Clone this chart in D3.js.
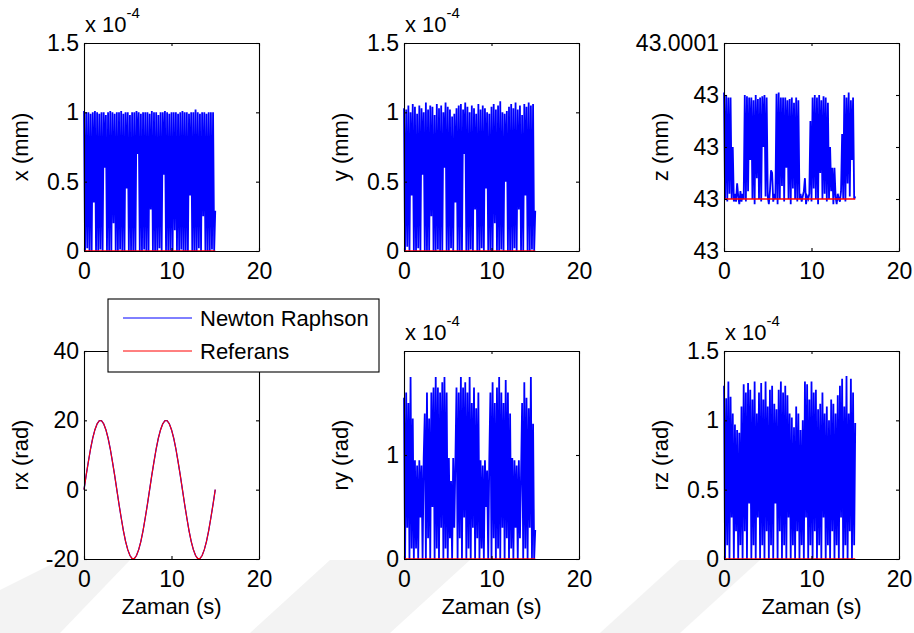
<!DOCTYPE html>
<html>
<head>
<meta charset="utf-8">
<script src="https://cdn.jsdelivr.net/npm/d3@7"></script>
<style>
  body { margin: 0; background: #fff; }
  svg text { font-family: "Liberation Sans", Arial, sans-serif; fill: #000; }
</style>
</head>
<body>
<svg id="chart" width="914" height="633"></svg>
<script>
// Solver output sampled every 0.125 s over 0..15 s; rx reference every 0.25 s.
const sampleStep = 0.125;
const rxStep = 0.25;
const refTimes = [0, 15];
const xTicks = [0, 10, 20];

// Position errors, units of 1e-4 mm
const xNewton = [
  1.01,0,1.0,0.02,1.0,0,0.99,0,1.0,0.35,1.01,0,1.0,0,0.99,0.01,1.0,0,1.0,0.6,
  0.98,0,1.0,0,1.01,0,1.0,0.2,0.99,0,1.0,0,1.0,0.01,1.01,0,0.99,0,1.0,0.45,
  1.0,0,0.98,0,1.0,0,1.0,0,1.01,0.7,1.0,0,0.99,0,1.0,0.01,1.0,0,1.0,0,
  0.99,0.3,1.01,0,1.0,0,1.0,0,0.98,0.02,1.0,0,1.0,0.55,1.01,0,1.0,0,0.99,0,
  1.0,0,1.0,0.15,1.0,0,0.99,0,1.0,0.01,1.01,0,1.0,0,1.0,0,0.99,0.4,1.0,0,
  1.0,0,1.02,0,1.0,0.02,0.99,0,1.0,0.25,1.0,0,0.99,0,1.0,0,1.0,0.01,1.0,0,
  0.29
];
const xRef = [0, 0];

const yNewton = [
  1.03,0,1.02,0.03,1.05,0,1.0,0.4,1.06,0,1.04,0,0.99,0.02,1.05,0,1.03,0.55,1.0,0,
  1.07,0,1.02,0,1.05,0.25,1.04,0,0.98,0,1.06,0.01,1.03,0,1.05,0,1.0,0.6,1.07,0,
  1.04,0,1.02,0.02,0.97,0,0.99,0.35,1.03,0,1.05,0,1.06,0,1.02,0.7,1.07,0,1.04,0,
  1.0,0.01,1.05,0,1.03,0.3,0.99,0,1.06,0,1.02,0.02,1.05,0,1.03,0.45,1.0,0,0.99,0,
  1.04,0,1.06,0.2,1.02,0,1.05,0,1.08,0.01,1.0,0,0.99,0.5,1.01,0,1.04,0,1.06,0,
  1.03,0.02,1.07,0,1.02,0.3,1.05,0,0.98,0,1.06,0.4,1.04,0,1.07,0,1.05,0.01,1.06,0,
  0.29
];
const yRef = [0, 0];

// z error relative to 43 mm, units of 1e-5 mm
const zBase = 43;
const zNewton = [
  4.1,0,4.0,-0.1,3.9,0.2,3.9,0,2.0,-0.1,
  0.2,-0.1,0.6,0.1,-0.2,0.3,-0.1,0.2,0,
  4.0,-0.1,3.95,0.3,3.9,1.5,3.9,0,3.8,-0.2,4.0,0.8,3.85,0,3.9,-0.1,3.95,2.0,4.0,0.1,3.9,
  0.1,-0.2,0.3,1.1,1.0,-0.1,0.2,0,
  4.05,-0.2,4.1,0,3.9,0.5,3.9,-0.1,3.9,1.2,3.8,0,3.85,-0.2,3.9,0.4,3.7,0,3.9,-0.1,3.8,0,
  0.2,-0.1,0.1,0.3,0.8,-0.2,0.1,0,0.2,
  3.0,-0.1,3.9,0.4,4.0,0,3.9,-0.2,4.0,1.0,3.8,0,3.95,0.2,3.9,-0.1,3.7,0,2.0,0.3,
  1.2,-0.2,1.2,0.1,-0.2,0.2,0,-0.1,0.3,
  2.5,0,4.0,-0.1,3.9,0.6,4.1,0.1,3.8,1.5,3.9,0,0.1
];
const zRef = [0, 0];
const zTickLabels = ["43", "43", "43", "43", "43.0001"];

// Rotation about x follows the sinusoidal reference
const rxRef = [
  0,4.2,8.1,11.8,14.9,17.3,19.0,19.9,19.9,19.0,17.3,14.9,11.8,8.1,4.2,
  0,-4.2,-8.1,-11.8,-14.9,-17.3,-19.0,-19.9,-19.9,-19.0,-17.3,-14.9,-11.8,-8.1,-4.2,
  0,4.2,8.1,11.8,14.9,17.3,19.0,19.9,19.9,19.0,17.3,14.9,11.8,8.1,4.2,
  0,-4.2,-8.1,-11.8,-14.9,-17.3,-19.0,-19.9,-19.9,-19.0,-17.3,-14.9,-11.8,-8.1,-4.2,
  0
];
const rxNewton = [
  0,4.2,8.1,11.8,14.9,17.3,19.0,19.9,19.9,19.0,17.3,14.9,11.8,8.1,4.2,
  0,-4.2,-8.1,-11.8,-14.9,-17.3,-19.0,-19.9,-19.9,-19.0,-17.3,-14.9,-11.8,-8.1,-4.2,
  0,4.2,8.1,11.8,14.9,17.3,19.0,19.9,19.9,19.0,17.3,14.9,11.8,8.1,4.2,
  0,-4.2,-8.1,-11.8,-14.9,-17.3,-19.0,-19.9,-19.9,-19.0,-17.3,-14.9,-11.8,-8.1,-4.2,
  0
];

// Rotation errors, units of 1e-4 rad
const ryNewton = [
  1.55,0,1.6,0.3,1.5,0,1.75,0.1,1.35,0,
  0.95,0.1,0.9,0,0.95,0.4,0.9,0,0.97,
  1.4,0,1.6,0.2,1.35,0,1.6,0.5,1.65,0,1.75,0.1,1.65,0,1.6,0.3,1.7,0,1.75,0.1,1.6,
  0,0.97,0.2,0.75,0,0.97,0.3,0.95,
  1.65,0,1.6,0.2,1.75,0,1.65,0.4,1.7,0,1.6,0.1,1.75,0,1.5,0.3,1.65,0,1.45,0.2,1.6,0,
  0.95,0.1,0.9,0,0.95,0.5,0.85,0,0.97,
  1.6,0,1.7,0.2,1.5,0,1.65,0.1,1.75,0,1.6,0.3,1.5,0,1.72,0.2,1.6,0,1.4,0.1,
  0.97,0,0.95,0.3,0.9,0,0.95,0.2,0.8,
  1.5,0,1.7,0.1,1.55,0,1.45,0.3,1.75,0,1.3,0,0.28
];
const ryRef = [0, 0];

const rzNewton = [
  1.25,0,1.16,0.1,1.28,0,1.17,0.3,1.05,0,0.97,0.2,0.93,0,0.91,0.1,1.1,0,1.26,0.2,
  1.2,0,1.27,0.4,1.22,0,1.15,0.1,1.28,0,1.05,0.3,1.2,0,1.27,0.1,1.15,0,1.28,0.2,
  1.1,0,1.22,0.1,1.25,0,1.12,0.4,1.08,0,1.22,0.2,1.28,0,1.2,0.1,1.25,0,1.18,0.3,
  1.05,0,1.02,0.1,0.95,0,1.1,0.2,1.05,0,0.93,0.1,1.0,0,1.28,0.3,1.26,0,1.15,0.1,
  1.28,0,1.2,0.2,1.22,0,1.08,0.1,1.12,0,1.2,0.3,1.05,0,1.1,0.1,1.0,0,1.15,0.2,
  1.12,0,1.05,0.1,1.18,0,1.25,0.3,1.3,0,1.1,0.1,1.32,0,1.05,0.2,1.3,0,1.2,0.1,
  0.98
];
const rzRef = [0, 0];

const legendLabels = ["Newton Raphson", "Referans"];
const seriesColors = ["#0000ff", "#ff0000"];

const panels = [
  { label: "x (mm)",  newton: xNewton,  ref: xRef,  step: sampleStep, domain: [0, 1.5],  ticks: [0, 0.5, 1, 1.5], exp: true,  col: 0, row: 0 },
  { label: "y (mm)",  newton: yNewton,  ref: yRef,  step: sampleStep, domain: [0, 1.5],  ticks: [0, 0.5, 1, 1.5], exp: true,  col: 1, row: 0 },
  { label: "z (mm)",  newton: zNewton,  ref: zRef,  step: sampleStep, domain: [-2, 6],   ticks: [-2, 0, 2, 4, 6], exp: false, col: 2, row: 0, tickText: zTickLabels },
  { label: "rx (rad)", newton: rxNewton, ref: rxRef, step: rxStep, refStep: rxStep, domain: [-20, 40], ticks: [-20, 0, 20, 40], exp: false, col: 0, row: 1, thin: true },
  { label: "ry (rad)", newton: ryNewton, ref: ryRef, step: sampleStep, domain: [0, 2],    ticks: [0, 1], exp: true,  col: 1, row: 1 },
  { label: "rz (rad)", newton: rzNewton, ref: rzRef, step: sampleStep, domain: [0, 1.5],  ticks: [0, 0.5, 1, 1.5], exp: true,  col: 2, row: 1 }
];

const svg = d3.select("#chart");

// faint diagonal bands in the lower background
const bandPaths = [
  "M0,633 L0,590 L60,560 L130,560 L60,633 Z",
  "M250,633 L330,560 L470,560 L390,633 Z",
  "M600,633 L680,560 L760,560 L680,633 Z"
];
svg.append("g").selectAll("path").data(bandPaths).join("path")
  .attr("d", d => d).attr("fill", "#f3f3f3");

const colLeft = [84, 404, 724];
const rowTop = [43, 351];
const pw = 175, ph = 208;
const tickFont = 23, labelFont = 22, legendFont = 22;
const tickLen = 3;

panels.forEach(p => {
  const left = colLeft[p.col], top = rowTop[p.row];
  const g = svg.append("g").attr("transform", `translate(${left},${top})`);
  const x = d3.scaleLinear().domain([0, 20]).range([0, pw]);
  const y = d3.scaleLinear().domain(p.domain).range([ph, 0]);

  const line = d3.line().x(d => x(d[0])).y(d => y(d[1]));
  const newtonPts = p.newton.map((v, i) => [i * p.step, v]);
  const refPts = p.refStep ? p.ref.map((v, i) => [i * p.refStep, v]) : p.ref.map((v, i) => [refTimes[i], v]);

  g.append("path").attr("d", line(newtonPts))
    .attr("fill", "none").attr("stroke", seriesColors[0]).attr("stroke-width", p.thin ? 1.3 : 1.8)
    .attr("stroke-linejoin", "miter");
  g.append("path").attr("d", line(refPts))
    .attr("fill", "none").attr("stroke", seriesColors[1]).attr("stroke-width", p.thin ? 1.1 : 1.5);

  // box with inward ticks on all four sides
  const axB = d3.axisBottom(x).tickValues(xTicks).tickSizeInner(-tickLen).tickSizeOuter(0).tickPadding(12).tickFormat(d3.format("d"));
  const axT = d3.axisTop(x).tickValues(xTicks).tickSizeInner(-tickLen).tickSizeOuter(0).tickFormat("");
  const yFmt = p.tickText ? ((d, i) => p.tickText[i]) : (d => String(d));
  const axL = d3.axisLeft(y).tickValues(p.ticks).tickSizeInner(-tickLen).tickSizeOuter(0).tickPadding(5).tickFormat(yFmt);
  const axR = d3.axisRight(y).tickValues(p.ticks).tickSizeInner(-tickLen).tickSizeOuter(0).tickFormat("");

  const styleAxis = sel => {
    sel.selectAll("path").attr("stroke", "#000").attr("stroke-width", 1.1);
    sel.selectAll("line").attr("stroke", "#000").attr("stroke-width", 1.1);
    sel.selectAll("text").style("font-size", tickFont + "px").attr("fill", "#000");
  };
  g.append("g").attr("transform", `translate(0,${ph})`).call(axB).call(styleAxis);
  g.append("g").call(axT).call(styleAxis);
  g.append("g").call(axL).call(styleAxis);
  g.append("g").attr("transform", `translate(${pw},0)`).call(axR).call(styleAxis);
  g.selectAll(".domain").attr("fill", "none");

  // y label
  g.append("text")
    .attr("transform", `translate(-56,${ph / 2}) rotate(-90)`)
    .attr("text-anchor", "middle")
    .style("font-size", labelFont + "px")
    .text(p.label);

  // exponent label
  if (p.exp) {
    const t = g.append("text").attr("x", 1).attr("y", -11).style("font-size", labelFont + "px");
    t.append("tspan").text("x 10");
    t.append("tspan").attr("dy", -14).style("font-size", "15px").text("-4");
  }

  if (p.row === 1) {
    g.append("text").attr("x", pw / 2).attr("y", ph + 55)
      .attr("text-anchor", "middle").style("font-size", labelFont + "px")
      .text("Zaman (s)");
  }
});

// legend
const lg = svg.append("g").attr("transform", "translate(108,299)");
lg.append("rect").attr("width", 271).attr("height", 73)
  .attr("fill", "#fff").attr("stroke", "#000").attr("stroke-width", 1.1);
legendLabels.forEach((name, i) => {
  const cy = 19 + i * 33;
  lg.append("line").attr("x1", 15).attr("x2", 84).attr("y1", cy).attr("y2", cy)
    .attr("stroke", seriesColors[i]).attr("stroke-width", 1);
  lg.append("text").attr("x", 92).attr("y", cy + 8).style("font-size", legendFont + "px").text(name);
});
</script>
</body>
</html>
